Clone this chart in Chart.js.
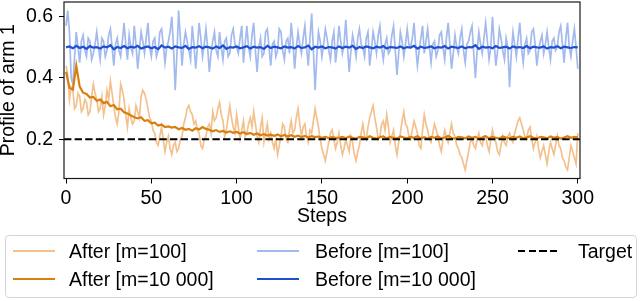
<!DOCTYPE html>
<html>
<head>
<meta charset="utf-8">
<script src="https://cdn.jsdelivr.net/npm/chart.js@4.4.1/dist/chart.umd.min.js"></script>
<style>
    html, body { margin: 0; padding: 0; background: #fff; }
    #wrap { position: relative; width: 640px; height: 301px; font-family: "Liberation Sans", Arial, sans-serif; }
    #chart { position: absolute; left: 0; top: 0; }
    .legend-box { position: absolute; left: 5px; top: 235px; width: 630px; height: 61px; border: 1px solid #d4d4d4; border-radius: 4px; }
    .swatch { position: absolute; width: 42px; height: 2px; }
    .label { position: absolute; font-size: 19.5px; line-height: 24px; height: 24px; color: #000; white-space: nowrap; }
</style>
</head>
<body>
<div id="wrap">
    <canvas id="chart" width="640" height="301"></canvas>
    <div class="legend-box"></div>
    <div id="legend"></div>
</div>
<script>
// steps: every step for the m=100 runs, every 2nd step for the m=10 000 runs
const steps = Array.from({ length: 301 }, (_, i) => i);
const stepsCoarse = Array.from({ length: 151 }, (_, i) => i * 2);

const afterM100 = [
    0.44, 0.41, 0.33, 0.37, 0.36, 0.30, 0.31, 0.35, 0.34, 0.29,
    0.30, 0.33, 0.32, 0.28, 0.29, 0.34, 0.38, 0.35, 0.33, 0.29,
    0.30, 0.34, 0.28, 0.31, 0.36, 0.33, 0.39, 0.35, 0.31, 0.27,
    0.25, 0.29, 0.38, 0.36, 0.33, 0.28, 0.24, 0.30, 0.27, 0.25,
    0.26, 0.31, 0.29, 0.27, 0.34, 0.36, 0.35, 0.33, 0.30, 0.27,
    0.26, 0.23, 0.22, 0.19, 0.18, 0.21, 0.24, 0.20, 0.16, 0.19,
    0.21, 0.17, 0.15, 0.18, 0.19, 0.16, 0.17, 0.20, 0.21, 0.25,
    0.27, 0.30, 0.31, 0.29, 0.28, 0.25, 0.26, 0.23, 0.22, 0.18,
    0.17, 0.20, 0.21, 0.24, 0.25, 0.22, 0.29, 0.26, 0.27, 0.30,
    0.32, 0.28, 0.26, 0.21, 0.23, 0.27, 0.31, 0.27, 0.24, 0.22,
    0.28, 0.24, 0.20, 0.23, 0.26, 0.21, 0.22, 0.25, 0.27, 0.24,
    0.29, 0.25, 0.21, 0.19, 0.24, 0.27, 0.19, 0.22, 0.25, 0.20,
    0.22, 0.19, 0.17, 0.20, 0.15, 0.18, 0.21, 0.25, 0.24, 0.20,
    0.19, 0.23, 0.26, 0.22, 0.23, 0.27, 0.30, 0.25, 0.21, 0.24,
    0.25, 0.21, 0.19, 0.23, 0.22, 0.26, 0.30, 0.27, 0.24, 0.20,
    0.17, 0.15, 0.13, 0.16, 0.19, 0.22, 0.23, 0.20, 0.17, 0.19,
    0.22, 0.18, 0.15, 0.17, 0.20, 0.18, 0.16, 0.21, 0.19, 0.15,
    0.13, 0.16, 0.18, 0.22, 0.25, 0.21, 0.20, 0.24, 0.27, 0.29,
    0.31, 0.27, 0.24, 0.20, 0.21, 0.25, 0.26, 0.23, 0.28, 0.24,
    0.19, 0.21, 0.23, 0.18, 0.15, 0.19, 0.22, 0.26, 0.29, 0.25,
    0.24, 0.21, 0.20, 0.23, 0.26, 0.24, 0.22, 0.18, 0.17, 0.23,
    0.28, 0.25, 0.23, 0.20, 0.19, 0.22, 0.25, 0.23, 0.21, 0.18,
    0.16, 0.20, 0.23, 0.21, 0.19, 0.22, 0.25, 0.22, 0.21, 0.18,
    0.17, 0.15, 0.14, 0.12, 0.10, 0.13, 0.16, 0.19, 0.20, 0.18,
    0.17, 0.20, 0.22, 0.19, 0.18, 0.21, 0.21, 0.18, 0.16, 0.20,
    0.23, 0.20, 0.19, 0.16, 0.15, 0.18, 0.21, 0.19, 0.18, 0.21,
    0.22, 0.20, 0.19, 0.22, 0.24, 0.26, 0.27, 0.25, 0.23, 0.21,
    0.20, 0.23, 0.24, 0.20, 0.17, 0.19, 0.21, 0.17, 0.14, 0.16,
    0.18, 0.15, 0.12, 0.16, 0.19, 0.17, 0.15, 0.18, 0.21, 0.18,
    0.17, 0.14, 0.13, 0.11, 0.10, 0.14, 0.18, 0.16, 0.14, 0.12,
    0.22
];

const beforeM100 = [
    0.57, 0.62, 0.55, 0.40, 0.38, 0.47, 0.55, 0.50, 0.45, 0.52,
    0.54, 0.49, 0.47, 0.53, 0.52, 0.46, 0.48, 0.51, 0.55, 0.50,
    0.46, 0.53, 0.52, 0.47, 0.49, 0.54, 0.56, 0.50, 0.44, 0.51,
    0.53, 0.49, 0.47, 0.52, 0.58, 0.51, 0.46, 0.54, 0.50, 0.48,
    0.57, 0.51, 0.43, 0.49, 0.55, 0.52, 0.48, 0.53, 0.58, 0.50,
    0.47, 0.52, 0.53, 0.47, 0.49, 0.55, 0.56, 0.51, 0.45, 0.50,
    0.52, 0.55, 0.60, 0.50, 0.36, 0.48, 0.62, 0.53, 0.44, 0.51,
    0.55, 0.52, 0.49, 0.46, 0.57, 0.51, 0.43, 0.50, 0.58, 0.53,
    0.47, 0.51, 0.56, 0.50, 0.42, 0.48, 0.52, 0.55, 0.49, 0.47,
    0.55, 0.50, 0.46, 0.52, 0.53, 0.47, 0.48, 0.54, 0.56, 0.51,
    0.50, 0.48, 0.53, 0.57, 0.45, 0.51, 0.57, 0.50, 0.47, 0.54,
    0.58, 0.49, 0.42, 0.50, 0.53, 0.47, 0.48, 0.55, 0.56, 0.50,
    0.44, 0.51, 0.52, 0.47, 0.49, 0.56, 0.55, 0.49, 0.46, 0.52,
    0.53, 0.48, 0.58, 0.52, 0.43, 0.50, 0.55, 0.51, 0.48, 0.53,
    0.57, 0.50, 0.44, 0.53, 0.61, 0.49, 0.36, 0.47, 0.55, 0.52,
    0.47, 0.51, 0.56, 0.53, 0.49, 0.46, 0.52, 0.55, 0.45, 0.50,
    0.57, 0.52, 0.48, 0.51, 0.59, 0.50, 0.42, 0.49, 0.54, 0.51,
    0.47, 0.53, 0.56, 0.51, 0.50, 0.47, 0.53, 0.55, 0.44, 0.49,
    0.55, 0.52, 0.48, 0.54, 0.57, 0.50, 0.46, 0.51, 0.53, 0.48,
    0.49, 0.54, 0.57, 0.49, 0.41, 0.48, 0.55, 0.52, 0.47, 0.51,
    0.56, 0.51, 0.50, 0.53, 0.58, 0.50, 0.44, 0.49, 0.53, 0.57,
    0.48, 0.52, 0.56, 0.50, 0.45, 0.51, 0.52, 0.47, 0.49, 0.54,
    0.55, 0.50, 0.46, 0.53, 0.58, 0.51, 0.43, 0.48, 0.54, 0.50,
    0.48, 0.53, 0.56, 0.49, 0.45, 0.51, 0.52, 0.55, 0.57, 0.48,
    0.40, 0.49, 0.55, 0.51, 0.48, 0.53, 0.58, 0.52, 0.46, 0.50,
    0.60, 0.51, 0.44, 0.49, 0.56, 0.53, 0.49, 0.46, 0.53, 0.50,
    0.37, 0.48, 0.55, 0.51, 0.47, 0.53, 0.58, 0.50, 0.45, 0.51,
    0.53, 0.48, 0.49, 0.55, 0.56, 0.51, 0.44, 0.49, 0.52, 0.54,
    0.48, 0.51, 0.55, 0.50, 0.46, 0.52, 0.53, 0.49, 0.50, 0.55,
    0.57, 0.51, 0.45, 0.53, 0.58, 0.50, 0.47, 0.52, 0.56, 0.50,
    0.43
];

const afterM10000 = [
    0.420, 0.368, 0.362, 0.440, 0.372, 0.352, 0.348, 0.336, 0.338, 0.326,
    0.330, 0.318, 0.322, 0.308, 0.312, 0.298, 0.300, 0.288, 0.284, 0.278,
    0.272, 0.268, 0.272, 0.260, 0.262, 0.252, 0.254, 0.245, 0.248, 0.240,
    0.242, 0.238, 0.240, 0.233, 0.237, 0.231, 0.234, 0.228, 0.236, 0.232,
    0.240, 0.234, 0.231, 0.226, 0.230, 0.224, 0.227, 0.222, 0.226, 0.221,
    0.224, 0.219, 0.223, 0.217, 0.221, 0.215, 0.219, 0.213, 0.217, 0.212,
    0.215, 0.211, 0.216, 0.210, 0.214, 0.209, 0.213, 0.208, 0.212, 0.207,
    0.211, 0.206, 0.210, 0.207, 0.209, 0.205, 0.208, 0.204, 0.207, 0.205,
    0.205, 0.208, 0.203, 0.209, 0.205, 0.202, 0.208, 0.206, 0.203, 0.210,
    0.205, 0.202, 0.207, 0.209, 0.203, 0.208, 0.205, 0.202, 0.209, 0.206,
    0.203, 0.208, 0.205, 0.210, 0.203, 0.207, 0.202, 0.208, 0.205, 0.209,
    0.203, 0.206, 0.211, 0.204, 0.202, 0.208, 0.206, 0.203, 0.209, 0.205,
    0.208, 0.202, 0.206, 0.210, 0.203, 0.208, 0.205, 0.202, 0.209, 0.206,
    0.203, 0.208, 0.205, 0.209, 0.203, 0.206, 0.210, 0.205, 0.202, 0.208,
    0.206, 0.203, 0.209, 0.205, 0.208, 0.202, 0.206, 0.210, 0.205, 0.208,
    0.206
];

const beforeM10000 = [
    0.500, 0.503, 0.497, 0.505, 0.498, 0.502, 0.495, 0.504, 0.499, 0.501,
    0.496, 0.503, 0.500, 0.507, 0.494, 0.501, 0.498, 0.504, 0.497, 0.502,
    0.499, 0.505, 0.496, 0.500, 0.503, 0.497, 0.501, 0.494, 0.506, 0.499,
    0.502, 0.496, 0.503, 0.500, 0.498, 0.505, 0.495, 0.501, 0.499, 0.504,
    0.497, 0.502, 0.500, 0.496, 0.503, 0.498, 0.506, 0.495, 0.501, 0.499,
    0.503, 0.497, 0.500, 0.504, 0.496, 0.502, 0.499, 0.501, 0.495, 0.505,
    0.498, 0.502, 0.500, 0.497, 0.503, 0.499, 0.501, 0.496, 0.504, 0.498,
    0.500, 0.506, 0.494, 0.502, 0.499, 0.503, 0.497, 0.501, 0.500, 0.496,
    0.503, 0.498, 0.502, 0.499, 0.505, 0.495, 0.501, 0.498, 0.503, 0.500,
    0.497, 0.502, 0.499, 0.504, 0.496, 0.501, 0.500, 0.498, 0.503, 0.497,
    0.501, 0.499, 0.505, 0.496, 0.502, 0.498, 0.500, 0.503, 0.497, 0.501,
    0.499, 0.504, 0.496, 0.502, 0.500, 0.498, 0.503, 0.497, 0.501, 0.500,
    0.507, 0.495, 0.502, 0.499, 0.501, 0.497, 0.504, 0.498, 0.500, 0.502,
    0.496, 0.503, 0.499, 0.501, 0.498, 0.504, 0.497, 0.502, 0.500, 0.499,
    0.503, 0.496, 0.501, 0.499, 0.504, 0.497, 0.502, 0.500, 0.498, 0.501,
    0.500
];

const target = 0.2;
const xTicks = [0, 50, 100, 150, 200, 250, 300];
const yTicks = [0.2, 0.4, 0.6];
const xRange = [-1.2, 301.3];
const yRange = [0.072, 0.648];

const series = [
    { label: 'After [m=100]', values: afterM100, x: steps, color: '#f4c18e', width: 1.7 },
    { label: 'After [m=10 000]', values: afterM10000, x: stepsCoarse, color: '#d7800f', width: 2.2 },
    { label: 'Before [m=100]', values: beforeM100, x: steps, color: '#a2baee', width: 1.7 },
    { label: 'Before [m=10 000]', values: beforeM10000, x: stepsCoarse, color: '#1f4fcc', width: 2.2 }
];

const FONT = '"Liberation Sans", Arial, sans-serif';
Chart.defaults.font.family = FONT;
Chart.defaults.font.size = 19.5;
Chart.defaults.color = '#000';

const lineSets = series.map(s => ({
    label: s.label,
    data: s.values.map((v, i) => ({ x: s.x[i], y: v })),
    borderColor: s.color,
    borderWidth: s.width,
    pointRadius: 0,
    tension: 0,
    fill: false
}));

// dataset 0 is drawn on top in Chart.js, so reverse matplotlib's plotting order
const datasets = [
    {
        label: 'Target',
        data: [{ x: xRange[0], y: target }, { x: xRange[1], y: target }],
        borderColor: '#000',
        borderWidth: 2,
        borderDash: [7.4, 3.2],
        pointRadius: 0
    },
    lineSets[3], lineSets[1], lineSets[2], lineSets[0]
];

const framePlugin = {
    id: 'frame',
    afterDraw(chart) {
        const { ctx, chartArea: a } = chart;
        ctx.save();
        ctx.strokeStyle = '#1a1a1a';
        ctx.lineWidth = 1.2;
        ctx.strokeRect(a.left, a.top, a.right - a.left, a.bottom - a.top);
        ctx.restore();
    }
};

new Chart(document.getElementById('chart'), {
    type: 'line',
    data: { datasets: datasets },
    options: {
        responsive: false,
        animation: false,
        layout: { padding: { left: 0, right: 60, top: 2, bottom: 72.5 } },
        plugins: { legend: { display: false }, tooltip: { enabled: false } },
        scales: {
            x: {
                type: 'linear',
                min: xRange[0],
                max: xRange[1],
                afterBuildTicks: s => { s.ticks = xTicks.map(v => ({ value: v })); },
                afterFit: s => { s.height = 50; s.paddingLeft = 0; s.paddingRight = 0; },
                ticks: { padding: 3, maxRotation: 0, callback: v => String(v) },
                grid: { drawOnChartArea: false, tickLength: 5, color: '#000', lineWidth: 1 },
                border: { display: false },
                title: { display: true, text: 'Steps', padding: 0, font: { size: 19.5 } }
            },
            y: {
                min: yRange[0],
                max: yRange[1],
                afterBuildTicks: s => { s.ticks = yTicks.map(v => ({ value: v })); },
                afterFit: s => { s.width = 64; s.paddingTop = 0; s.paddingBottom = 0; },
                ticks: { padding: 6, callback: v => v.toFixed(1) },
                grid: { drawOnChartArea: false, tickLength: 5, color: '#000', lineWidth: 1 },
                border: { display: false },
                title: { display: true, text: 'Profile of arm 1', padding: 0, font: { size: 19.5, lineHeight: 0.9 } }
            }
        }
    },
    plugins: [framePlugin]
});

// legend, laid out in matplotlib's column order
const legendItems = [
    { label: series[0].label, color: series[0].color, col: 0, row: 0 },
    { label: series[1].label, color: series[1].color, col: 0, row: 1 },
    { label: series[2].label, color: series[2].color, col: 1, row: 0 },
    { label: series[3].label, color: series[3].color, col: 1, row: 1 },
    { label: 'Target', color: null, col: 2, row: 0 }
];
const colX = [[13, 69], [257, 315], [518, 578]];
const rowY = [251, 279];
const legend = document.getElementById('legend');
legendItems.forEach(item => {
    const sw = document.createElement('div');
    sw.className = 'swatch';
    sw.style.left = colX[item.col][0] + 'px';
    sw.style.top = (rowY[item.row] - 1) + 'px';
    if (item.color) {
        sw.style.background = item.color;
    } else {
        sw.style.background = 'repeating-linear-gradient(to right, #000 0 7.4px, transparent 7.4px 10.6px)';
    }
    legend.appendChild(sw);
    const lb = document.createElement('div');
    lb.className = 'label';
    lb.style.left = colX[item.col][1] + 'px';
    lb.style.top = (rowY[item.row] - 12) + 'px';
    lb.textContent = item.label;
    legend.appendChild(lb);
});
</script>
</body>
</html>
